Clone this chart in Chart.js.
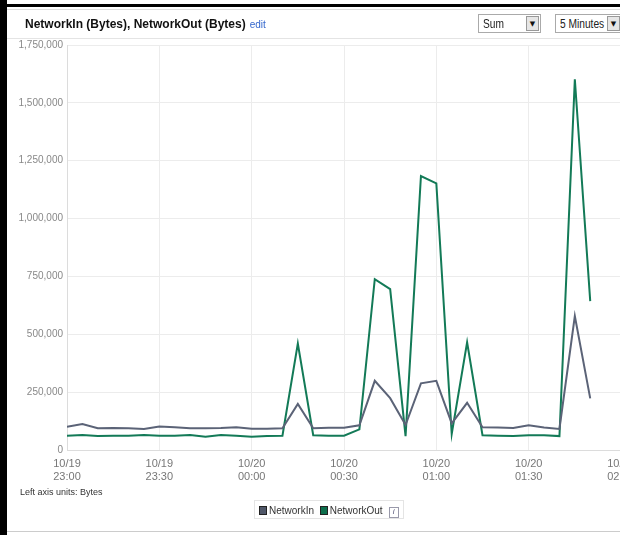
<!DOCTYPE html>
<html>
<head>
<meta charset="utf-8">
<script src="https://cdn.jsdelivr.net/npm/chart.js@4"></script>
<style>
  html, body { margin: 0; padding: 0; width: 620px; height: 535px; overflow: hidden; background: #fff; font-family: "Liberation Sans", Arial, sans-serif; }
  #frame { position: absolute; left: 0; top: 0; width: 620px; height: 535px; }
  #leftbar { position: absolute; left: 0; top: 0; width: 7px; height: 535px; background: #000; }
  #topbar { position: absolute; left: 0; top: 4px; width: 620px; height: 3px; background: #000; }
  #topline { position: absolute; left: 7px; top: 9px; width: 613px; height: 1px; background: #ddd; }
  #sep { position: absolute; left: 7px; top: 38px; width: 613px; height: 1px; background: #e4e4e4; }
  #bottomline { position: absolute; left: 7px; top: 531px; width: 613px; height: 1px; background: #ccc; }
  #title { position: absolute; left: 25px; top: 17px; font-size: 12px; font-weight: bold; color: #111; white-space: nowrap; }
  #title span { font-weight: normal; font-size: 10px; color: #3366cc; margin-left: 4px; }
  .sel { position: absolute; top: 14px; height: 19px; border: 1px solid #aaa; background: #fff; font-size: 12px; color: #222; box-sizing: border-box; }
  .sel .t { position: absolute; left: 4px; top: 2px; white-space: nowrap; transform-origin: 0 0; transform: scaleX(0.85); }
  .sel .b { position: absolute; right: 1px; top: 1px; width: 13px; height: 15px; background: #e6e6e6; border: 1px solid #999; box-sizing: border-box; font-size: 7px; text-align: center; line-height: 14px; color: #111; font-family: "DejaVu Sans", sans-serif; }
  #units { position: absolute; left: 20px; top: 487px; font-size: 9px; color: #333; }
  #legend { position: absolute; left: 254px; top: 500px; height: 19px; padding: 0 4px; border: 1px solid #e4e4e4; font-size: 10px; color: #333; white-space: nowrap; line-height: 19px; box-sizing: border-box; }
  #legend i.sq { display: inline-block; width: 8px; height: 9px; vertical-align: -1px; margin-right: 2px; border: 1px solid #222; box-sizing: border-box; }
  #legend b.info { display: inline-block; width: 8px; height: 9px; border: 1px solid #99a; font-size: 8px; font-style: italic; font-weight: normal; color: #557; text-align: center; line-height: 8px; margin-left: 6px; vertical-align: 0px; }
  #wrap { position: absolute; left: 0; top: 0; width: 660px; height: 490px; }
</style>
</head>
<body>
<div id="frame">
  <div id="wrap"><canvas id="myChart"></canvas></div>
  <div id="leftbar"></div>
  <div id="topbar"></div>
  <div id="topline"></div>
  <div id="sep"></div>
  <div id="bottomline"></div>
  <div id="title">NetworkIn (Bytes), NetworkOut (Bytes)<span>edit</span></div>
  <div class="sel" style="left:478px;width:63px;"><span class="t">Sum</span><span class="b">&#9660;</span></div>
  <div class="sel" style="left:555px;width:72px;"><span class="t">5 Minutes</span><span class="b" style="right:6px;">&#9660;</span></div>
  <div id="units">Left axis units: Bytes</div>
  <div id="legend"><i class="sq" style="background:#4f5768"></i>NetworkIn <i class="sq" style="background:#0d6e4c;margin-left:3px"></i>NetworkOut<b class="info">i</b></div>
</div>
<script>
const times = ['23:00','23:05','23:10','23:15','23:20','23:25','23:30','23:35','23:40','23:45','23:50','23:55',
               '00:00','00:05','00:10','00:15','00:20','00:25','00:30','00:35','00:40','00:45','00:50','00:55',
               '01:00','01:05','01:10','01:15','01:20','01:25','01:30','01:35','01:40','01:45','01:50'];
const networkIn = [100000,112000,94000,95000,94000,91000,102000,98000,94000,94000,95000,98000,
                   92000,92000,94000,199000,94000,96000,96000,107000,299000,224000,108000,288000,
                   299000,115000,204000,98000,97000,95000,107000,97000,91000,579000,223000];
const networkOut = [62000,65000,60000,62000,62000,65000,62000,62000,65000,57000,65000,62000,
                    57000,60000,62000,460000,64000,62000,62000,89000,738000,695000,60000,1184000,
                    1152000,69000,465000,64000,62000,60000,64000,64000,60000,1602000,643000];
const tickDates = ['10/19','10/19','10/20','10/20','10/20','10/20','10/20'];
const tickTimes = ['23:00','23:30','00:00','00:30','01:00','01:30','02:00'];

// minutes since 23:00
function toMin(s) {
    const p = s.split(':');
    return ((+p[0]) * 60 + (+p[1]) - 23 * 60 + 1440) % 1440;
}

const data = {
datasets: [{
    label: 'NetworkIn',
    data: networkIn.map((v, i) => ({x: toMin(times[i]), y: v})),
    borderColor: '#5b6377',
    backgroundColor: '#4f5768',
    borderWidth: 2
},
{
    label: 'NetworkOut',
    data: networkOut.map((v, i) => ({x: toMin(times[i]), y: v})),
    borderColor: '#137a57',
    backgroundColor: '#0d6e4c',
    borderWidth: 2
}]
};

const config = {
type: 'line',
data,
options: {
    responsive: true,
    maintainAspectRatio: false,
    animation: false,
    layout: { padding: { top: 45, right: 39, left: 0, bottom: 0 } },
    elements: { point: { radius: 0 }, line: { tension: 0 } },
    plugins: { legend: { display: false }, tooltip: { enabled: false } },
    scales: {
        x: {
            type: 'linear',
            min: 0,
            max: 180,
            afterFit: s => { s.height = 40; },
            afterBuildTicks: s => { s.ticks = tickTimes.map(t => ({value: toMin(t)})); },
            ticks: {
                autoSkip: false,
                maxRotation: 0,
                padding: 7,
                color: '#777',
                font: { family: 'Liberation Sans', size: 11, lineHeight: 1.2 },
                callback: (v, i) => [tickDates[i], tickTimes[i]]
            },
            grid: { color: '#ececec', drawTicks: false },
            border: { color: '#dcdcdc' }
        },
        y: {
            min: 0,
            max: 1750000,
            afterFit: s => { s.width = 67; },
            ticks: {
                stepSize: 250000,
                padding: 4,
                color: '#888',
                font: { family: 'Liberation Sans', size: 10 },
                callback: v => v.toLocaleString('en-US')
            },
            grid: { color: '#ececec', drawTicks: false },
            border: { color: '#dcdcdc' }
        }
    }
}
};

const myChart = new Chart(
    document.getElementById('myChart'),
    config
    );
</script>
</body>
</html>
